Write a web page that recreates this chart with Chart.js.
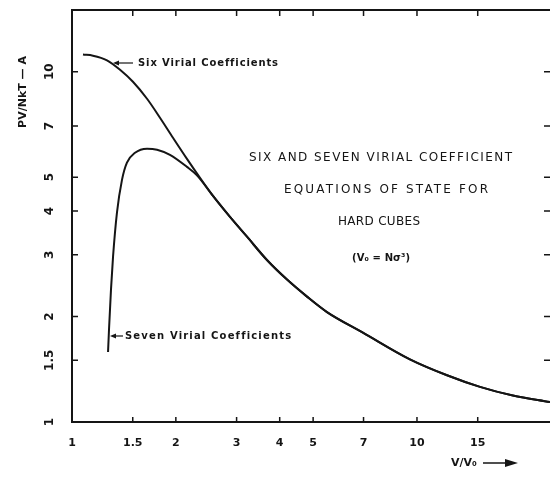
<!DOCTYPE html>
<html>
<head>
<meta charset="utf-8">
<script src="https://cdn.jsdelivr.net/npm/chart.js"></script>
<style>
  html, body { margin: 0; padding: 0; background: #fff; }
</style>
</head>
<body>
<canvas id="chart" width="550" height="481"></canvas>
<script>
// tick values and their printed labels
const xTicks = [1, 1.5, 2, 3, 4, 5, 7, 10, 15];
const xTickLabels = ['1', '1.5', '2', '3', '4', '5', '7', '10', '15'];
const yTicks = [1, 1.5, 2, 3, 4, 5, 7, 10];
const yTickLabels = ['1', '1.5', '2', '3', '4', '5', '7', '10'];

// six virial coefficients curve (V/V0, PV/NkT)
const sixX = [1.076, 1.15, 1.263, 1.378, 1.502, 1.65, 1.799, 1.962, 2.154, 2.35, 2.563, 2.871, 3.216, 3.674, 4.201, 4.80, 5.484, 6.97, 9.54, 12.22, 15.23, 18.97, 24.3];
const sixY = [11.19, 11.11, 10.78, 10.13, 9.36, 8.37, 7.39, 6.48, 5.64, 4.98, 4.42, 3.85, 3.38, 2.90, 2.55, 2.28, 2.06, 1.80, 1.51, 1.36, 1.26, 1.19, 1.14];

// seven virial coefficients curve
const sevenX = [1.272, 1.28, 1.297, 1.315, 1.35, 1.396, 1.443, 1.523, 1.65, 1.764, 1.923, 2.154, 2.303, 2.563, 2.871, 3.216, 3.674, 4.201, 4.80, 5.484, 6.97, 9.54, 12.22, 15.23, 18.97, 24.3];
const sevenY = [1.585, 1.83, 2.38, 2.96, 3.96, 4.91, 5.50, 5.87, 6.03, 5.99, 5.79, 5.35, 5.06, 4.42, 3.85, 3.38, 2.90, 2.55, 2.28, 2.06, 1.80, 1.51, 1.36, 1.26, 1.19, 1.14];

const ink = '#151515';

function toPoints(xs, ys) {
    return xs.map((v, i) => ({ x: v, y: ys[i] }));
}

// draw text stretched to a given width with letter spacing
function spacedText(ctx, text, left, y, width) {
    ctx.letterSpacing = '0px';
    const w = ctx.measureText(text).width;
    const sp = text.length > 1 ? (width - w) / (text.length - 1) : 0;
    ctx.letterSpacing = sp.toFixed(2) + 'px';
    ctx.textAlign = 'left';
    ctx.fillText(text, left, y);
    ctx.letterSpacing = '0px';
}

function arrowLeft(ctx, x1, x2, y) {
    ctx.beginPath();
    ctx.moveTo(x2, y);
    ctx.lineTo(x1 + 4, y);
    ctx.stroke();
    ctx.beginPath();
    ctx.moveTo(x1, y);
    ctx.lineTo(x1 + 6, y - 2.5);
    ctx.lineTo(x1 + 6, y + 2.5);
    ctx.closePath();
    ctx.fill();
}

const decor = {
    id: 'decor',
    afterDraw(chart) {
        const { ctx, chartArea: a, scales: { x, y } } = chart;
        ctx.save();
        ctx.strokeStyle = ink;
        ctx.fillStyle = ink;

        // frame
        ctx.lineWidth = 2;
        ctx.beginPath();
        ctx.moveTo(a.right, a.top);
        ctx.lineTo(a.left, a.top);
        ctx.lineTo(a.left, a.bottom);
        ctx.lineTo(a.right, a.bottom);
        ctx.stroke();

        // inward ticks
        ctx.lineWidth = 1.5;
        ctx.beginPath();
        xTicks.slice(1).forEach(v => {
            const px = x.getPixelForValue(v);
            ctx.moveTo(px, a.top);
            ctx.lineTo(px, a.top + 6);
            ctx.moveTo(px, a.bottom);
            ctx.lineTo(px, a.bottom - 5);
        });
        yTicks.slice(1).forEach(v => {
            const py = y.getPixelForValue(v);
            ctx.moveTo(a.left, py);
            ctx.lineTo(a.left + 6, py);
            ctx.moveTo(a.right, py);
            ctx.lineTo(a.right - 6, py);
        });
        ctx.stroke();

        // tick labels
        ctx.font = 'bold 11px "DejaVu Sans"';
        ctx.textBaseline = 'middle';
        ctx.textAlign = 'center';
        xTicks.forEach((v, i) => {
            ctx.fillText(xTickLabels[i], x.getPixelForValue(v), 443);
        });
        ctx.font = 'bold 12px "DejaVu Sans"';
        yTicks.forEach((v, i) => {
            ctx.save();
            ctx.translate(50, y.getPixelForValue(v));
            ctx.rotate(-Math.PI / 2);
            ctx.fillText(yTickLabels[i], 0, 0);
            ctx.restore();
        });

        // axis titles
        ctx.save();
        ctx.translate(23, 92);
        ctx.rotate(-Math.PI / 2);
        ctx.font = 'bold 11px "DejaVu Sans"';
        ctx.textAlign = 'center';
        ctx.fillText('PV/NkT — A', 0, 0);
        ctx.restore();

        ctx.font = 'bold 11px "DejaVu Sans"';
        ctx.textAlign = 'left';
        ctx.fillText('V/V\u2080', 451, 463);
        ctx.lineWidth = 1.5;
        ctx.beginPath();
        ctx.moveTo(483, 463);
        ctx.lineTo(508, 463);
        ctx.stroke();
        ctx.beginPath();
        ctx.moveTo(518, 463);
        ctx.lineTo(505, 459);
        ctx.lineTo(505, 467);
        ctx.closePath();
        ctx.fill();

        // curve labels
        ctx.font = 'bold 10px "DejaVu Sans"';
        spacedText(ctx, 'Six Virial Coefficients', 138, 63, 139);
        spacedText(ctx, 'Seven Virial Coefficients', 125, 336, 165);
        ctx.lineWidth = 1.2;
        arrowLeft(ctx, 113, 133, 63);
        arrowLeft(ctx, 110, 123, 336);

        // title block
        ctx.font = '12px "DejaVu Sans"';
        spacedText(ctx, 'SIX AND SEVEN VIRIAL COEFFICIENT', 249, 158, 263);
        spacedText(ctx, 'EQUATIONS OF STATE FOR', 284, 190, 204);
        spacedText(ctx, 'HARD CUBES', 338, 222, 82);
        ctx.font = 'bold 10px "DejaVu Sans"';
        spacedText(ctx, '(V\u2080 = N\u03c3\u00b3)', 352, 258, 58);

        ctx.restore();
    }
};

const config = {
    type: 'line',
    data: {
        datasets: [{
            label: 'Six Virial Coefficients',
            data: toPoints(sixX, sixY),
            borderColor: ink,
            borderWidth: 2,
            pointRadius: 0,
            cubicInterpolationMode: 'monotone',
            fill: false
        }, {
            label: 'Seven Virial Coefficients',
            data: toPoints(sevenX, sevenY),
            borderColor: ink,
            borderWidth: 2,
            pointRadius: 0,
            cubicInterpolationMode: 'monotone',
            fill: false
        }]
    },
    options: {
        responsive: false,
        animation: false,
        devicePixelRatio: 1,
        layout: { padding: { left: 72, top: 10, right: 0, bottom: 59 } },
        plugins: {
            legend: { display: false },
            tooltip: { enabled: false }
        },
        scales: {
            x: { type: 'logarithmic', min: 1, max: 24.3, display: false },
            y: { type: 'logarithmic', min: 1, max: 15, display: false }
        }
    },
    plugins: [decor]
};

new Chart(document.getElementById('chart'), config);
</script>
</body>
</html>
